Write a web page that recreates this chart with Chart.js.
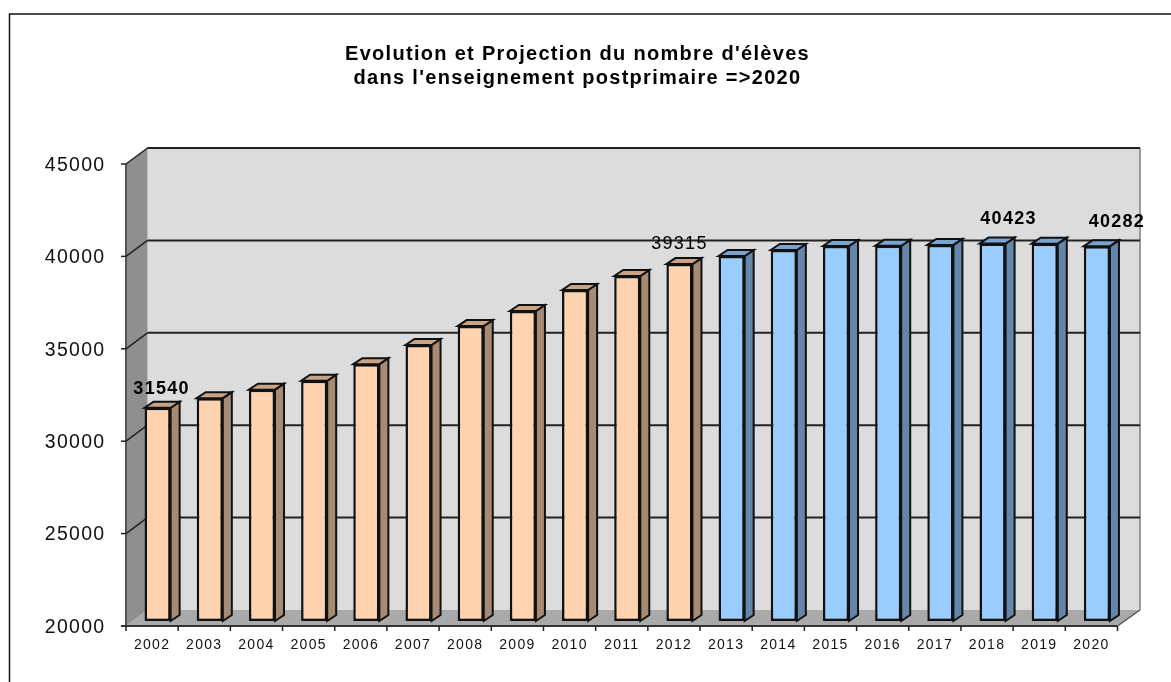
<!DOCTYPE html>
<html>
<head>
<meta charset="utf-8">
<title>Evolution et Projection</title>
<script src="https://cdn.jsdelivr.net/npm/chart.js@4"></script>
<style>
  html, body { margin: 0; padding: 0; background: #fff; }
  #wrap { width: 1171px; height: 682px; }
</style>
</head>
<body>
<div id="wrap"><canvas id="chart"></canvas></div>
<script>
const years = ["2002","2003","2004","2005","2006","2007","2008","2009","2010","2011","2012","2013","2014","2015","2016","2017","2018","2019","2020"];
const eleves = [31540,32060,32520,33000,33900,34935,35960,36775,37910,38670,39315,39750,40075,40290,40300,40350,40423,40420,40282];
const yTicks = [20000,25000,30000,35000,40000,45000];
const titleLines = ["Evolution et Projection du nombre d'élèves", "dans l'enseignement postprimaire =>2020"];
const firstProjection = "2013";

// value labels shown on the chart: year, pixel shift from bar top, font weight
const valueLabels = [
  { year: "2002", dx: 4, dy: -19, weight: "bold" },
  { year: "2012", dx: 0, dy: -20, weight: "normal" },
  { year: "2018", dx: 16, dy: -25, weight: "bold" },
  { year: "2020", dx: 20, dy: -24, weight: "bold" }
];

const FONT = '"Liberation Sans", Arial, sans-serif';
const projIndex = years.indexOf(firstProjection);
const colorsFor = (real, proj) => years.map((y, i) => i < projIndex ? real : proj);

// =================== 3D DEPTH ===================
const WALL_DX = 16, WALL_DY = -11;    // back wall relative to the bar scale
const AXIS_DX = -5.5, AXIS_DY = 5;    // front axis relative to the bar scale
const BAR_DX = 9, BAR_DY = -6;

const sideColors = colorsFor("#a68a74", "#6486ab");
const topColors = colorsFor("#c9a384", "#7ba3cf");

function poly(ctx, pts, fill, stroke, lw) {
  ctx.beginPath();
  pts.forEach((p, i) => i ? ctx.lineTo(p[0], p[1]) : ctx.moveTo(p[0], p[1]));
  ctx.closePath();
  if (fill) { ctx.fillStyle = fill; ctx.fill(); }
  if (stroke) { ctx.strokeStyle = stroke; ctx.lineWidth = lw; ctx.stroke(); }
}

function line(ctx, x1, y1, x2, y2, color, lw) {
  ctx.beginPath();
  ctx.moveTo(x1, y1);
  ctx.lineTo(x2, y2);
  ctx.strokeStyle = color;
  ctx.lineWidth = lw;
  ctx.stroke();
}

const depthPlugin = {
  id: "depth",
  beforeDraw(chart) {
    // reference text runs wider than Liberation Sans
    chart.ctx.letterSpacing = "1.3px";
  },
  beforeDatasetsDraw(chart) {
    const ctx = chart.ctx;
    const { left, right } = chart.chartArea;
    const xs = chart.scales.x, ys = chart.scales.y;
    const lo = ys.getPixelForValue(yTicks[0]);
    const hi = ys.getPixelForValue(yTicks[yTicks.length - 1]);
    const fl = left + AXIS_DX, fr = right + AXIS_DX;
    const bl = left + WALL_DX, br = right + WALL_DX + 1;

    ctx.save();
    // frame, open on the right and at the bottom of the picture
    ctx.strokeStyle = "#111";
    ctx.lineWidth = 1.5;
    ctx.strokeRect(9.5, 14, 1200, 700);

    // back wall, side wall, floor
    poly(ctx, [[bl, hi + WALL_DY], [br, hi + WALL_DY], [br, lo + WALL_DY], [bl, lo + WALL_DY]], "#dcdcdc");
    line(ctx, bl, hi + WALL_DY, br, hi + WALL_DY, "#222", 2);
    line(ctx, br, hi + WALL_DY, br, lo + WALL_DY, "#9a9a9a", 2);
    poly(ctx, [[fl, hi + AXIS_DY], [bl, hi + WALL_DY], [bl, lo + WALL_DY], [fl, lo + AXIS_DY]], "#8f8f8f");
    line(ctx, fl, hi + AXIS_DY, fl, lo + AXIS_DY, "#555", 2);
    poly(ctx, [[fl, lo + AXIS_DY], [bl, lo + WALL_DY], [br, lo + WALL_DY], [fr, lo + AXIS_DY]], "#a9a9a9");

    // gridlines
    yTicks.forEach(v => {
      const y = ys.getPixelForValue(v);
      if (v !== yTicks[0]) {
        line(ctx, bl, y + WALL_DY, br, y + WALL_DY, "#222", 2);
        line(ctx, fl - 5, y + AXIS_DY, fl, y + AXIS_DY, "#222", 1.5);
        line(ctx, fl, y + AXIS_DY, bl, y + WALL_DY, "#222", 1.5);
      }
    });
    line(ctx, fl - 5, lo + AXIS_DY, fr, lo + AXIS_DY, "#333", 2);
    line(ctx, fr, lo + AXIS_DY, br, lo + WALL_DY, "#555", 1.5);

    // category ticks
    const step = xs.getPixelForValue(1) - xs.getPixelForValue(0);
    for (let i = 0; i <= years.length; i++) {
      const x = xs.getPixelForValue(0) - step / 2 + i * step + AXIS_DX;
      line(ctx, x, lo + AXIS_DY, x, lo + AXIS_DY + 5, "#222", 1.5);
    }

    // side and top faces of the bars
    chart.getDatasetMeta(0).data.forEach((bar, i) => {
      const l = bar.x - bar.width / 2, r = bar.x + bar.width / 2;
      poly(ctx, [[r, bar.y], [r + BAR_DX, bar.y + BAR_DY], [r + BAR_DX, lo + BAR_DY], [r, lo]], sideColors[i], "#111", 2);
      poly(ctx, [[l, bar.y], [l + BAR_DX, bar.y + BAR_DY], [r + BAR_DX, bar.y + BAR_DY], [r, bar.y]], topColors[i], "#111", 2);
    });
    ctx.restore();
  },
  afterDatasetsDraw(chart) {
    const ctx = chart.ctx;
    const meta = chart.getDatasetMeta(0);
    ctx.save();
    ctx.fillStyle = "#000";
    ctx.textAlign = "center";
    ctx.textBaseline = "middle";
    valueLabels.forEach(item => {
      const i = years.indexOf(item.year);
      const bar = meta.data[i];
      ctx.font = `${item.weight} 18px ${FONT}`;
      ctx.fillText(String(eleves[i]), bar.x + item.dx, bar.y + item.dy);
    });
    ctx.restore();
  }
};

// =================== CHART ===================
new Chart(document.getElementById("chart"), {
  type: "bar",
  data: {
    labels: years,
    datasets: [{
      data: eleves,
      base: yTicks[0],
      clip: false,
      backgroundColor: colorsFor("#ffd3b0", "#99ccff"),
      borderColor: "#111",
      borderWidth: 2.5,
      borderSkipped: false,
      barPercentage: 0.5,
      categoryPercentage: 1
    }]
  },
  options: {
    responsive: true,
    maintainAspectRatio: false,
    animation: false,
    layout: { padding: { left: 32, right: 48, top: 0, bottom: 0 } },
    plugins: {
      legend: { display: false },
      tooltip: { enabled: false },
      title: {
        display: true,
        text: titleLines,
        color: "#000",
        font: { family: FONT, size: 20, weight: "bold", lineHeight: 1.2 },
        padding: { top: 42, bottom: 69 }
      }
    },
    scales: {
      x: {
        grid: { display: false, drawTicks: false },
        border: { display: false },
        ticks: {
          color: "#111",
          font: { family: FONT, size: 14 },
          padding: 16,
          labelOffset: AXIS_DX,
          autoSkip: false,
          maxRotation: 0
        },
        afterFit(scale) { scale.height = 61; }
      },
      y: {
        min: 20000,
        max: 45000,
        afterBuildTicks(scale) { scale.ticks = yTicks.map(v => ({ value: v })); },
        grid: { display: false, drawTicks: false },
        border: { display: false },
        ticks: {
          color: "#111",
          font: { family: FONT, size: 19.5 },
          padding: 26,
          labelOffset: AXIS_DY + 1.5,
          callback: v => String(v)
        },
        afterFit(scale) { scale.width = 99.5; }
      }
    }
  },
  plugins: [depthPlugin]
});
</script>
</body>
</html>
